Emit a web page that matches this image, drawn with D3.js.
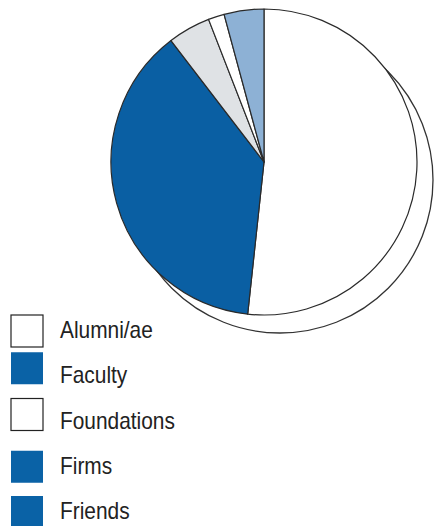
<!DOCTYPE html>
<html>
<head>
<meta charset="utf-8">
<script src="https://cdn.jsdelivr.net/npm/d3@7"></script>
<style>
html,body{margin:0;padding:0;background:#fff;}
svg{display:block;}
</style>
</head>
<body>
<svg id="chart" width="435" height="526"></svg>
<script>
// Slices clockwise from 12 o'clock (percent of total)
const sliceNames = ["Alumni/ae", "Friends", "Foundations", "Faculty", "Firms"];
const sliceValues = [51.7, 37.9, 4.5, 1.7, 4.2];
const sliceColors = ["#ffffff", "#0a5fa3", "#dfe2e5", "#ffffff", "#8db1d5"];

// Legend as printed
const legendLabels = ["Alumni/ae", "Faculty", "Foundations", "Firms", "Friends"];
const legendColors = ["#ffffff", "#0a62a6", "#ffffff", "#0a62a6", "#0a62a6"];

const svg = d3.select("#chart");
const cx = 264, cy = 162, r = 153;
const shadowDx = 16, shadowDy = 18;

// shadow / offset circle outline
svg.append("circle")
  .attr("cx", cx + shadowDx).attr("cy", cy + shadowDy).attr("r", r)
  .attr("fill", "#fff").attr("stroke", "#333").attr("stroke-width", 1.3);

const pie = d3.pie().sort(null).value(d => d);
const arc = d3.arc().innerRadius(0).outerRadius(r);

const g = svg.append("g").attr("transform", `translate(${cx},${cy})`);
g.selectAll("path")
  .data(pie(sliceValues))
  .join("path")
  .attr("d", arc)
  .attr("fill", (d, i) => sliceColors[i])
  .attr("stroke", "#2a2a2a")
  .attr("stroke-width", 1.2)
  .attr("stroke-linejoin", "round");

// legend
const ly = d3.scalePoint().domain(legendLabels).range([315, 496]);
const leg = svg.append("g");
leg.selectAll("rect")
  .data(legendLabels)
  .join("rect")
  .attr("x", 11)
  .attr("y", d => ly(d) + (d === "Faculty" ? -8 : d === "Foundations" ? -7 : d === "Firms" ? 0 : 0))
  .attr("width", 32).attr("height", 32)
  .attr("fill", (d, i) => legendColors[i])
  .attr("stroke", (d, i) => legendColors[i] === "#ffffff" ? "#222" : "none")
  .attr("stroke-width", 1.2);

leg.selectAll("text")
  .data(legendLabels)
  .join("text")
  .attr("transform", d => `translate(60,${ly(d) + 23}) scale(0.87,1)`)
  .attr("font-family", "Liberation Sans, Arial, sans-serif")
  .attr("font-size", 24)
  .attr("fill", "#222")
  .text(d => d);
</script>
</body>
</html>
